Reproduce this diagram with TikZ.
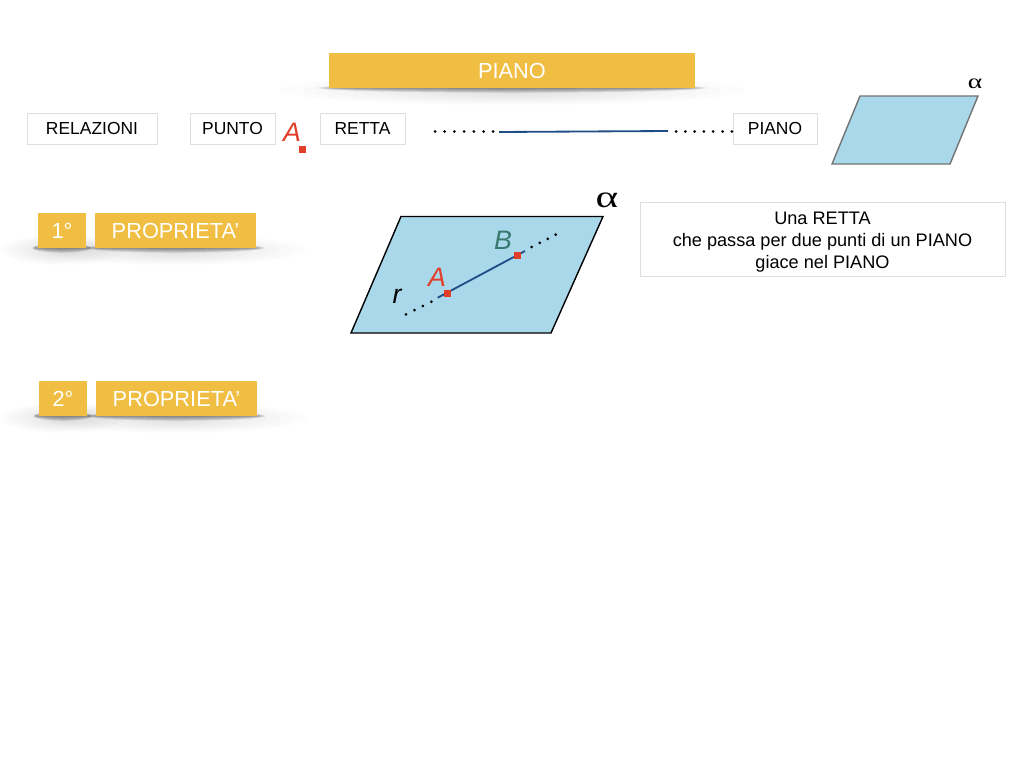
\documentclass[tikz,border=0pt]{standalone}
\usepackage{graphicx}
\usepackage{fontspec}
\setmainfont{Liberation Sans}
\newfontfamily\alphafont{Liberation Serif}
\definecolor{barcol}{HTML}{EFBE42}
\definecolor{planecol}{HTML}{A9D8EB}
\definecolor{linecol}{HTML}{1F4E87}
\definecolor{redcol}{HTML}{E23D28}
\definecolor{tealcol}{HTML}{37796F}
\tikzset{
  relbox/.style={draw=black!13, line width=0.6pt, fill=white, inner sep=0pt, minimum height=7.75mm, font=\fontsize{12.4}{15}\selectfont},
  goldbar/.style={fill=barcol, text=white, inner sep=0pt, minimum height=8.75mm, font=\fontsize{15.5}{19}\selectfont},
  redpt/.style={fill=redcol, inner sep=0pt, minimum size=1.75mm},
  dotpt/.style={circle, fill=black, inner sep=0pt, minimum size=0.75mm}
}
\newcommand{\barshadow}[4]{
  \foreach \i in {1,...,10}
    \fill[black, opacity=0.012] (#1,#2+2) ellipse [x radius=#3*\i/10, y radius=2+1.3*\i];
  \foreach \i in {1,...,6}
    \fill[black, opacity=0.08] (#1,#2) ellipse [x radius=#4*(0.94+0.02*\i), y radius=0.8*\i];
}
\begin{document}
\begin{tikzpicture}[x=0.25mm, y=-0.25mm]
\useasboundingbox (0,0) rectangle (1024,768);
\fill[white] (0,0) rectangle (1024,768);
% shadows under the bars
\barshadow{512}{88}{232}{183}
\barshadow{62}{248}{62}{28}
\barshadow{175.5}{248}{130}{84}
\barshadow{63}{416}{62}{28}
\barshadow{176.5}{416}{130}{84}
% bars
\node[goldbar, minimum width=91.5mm] (title) at (512,70.5) {PIANO};
\node[goldbar, minimum width=12mm] (first) at (62,230.5) {1°};
\node[goldbar, minimum width=40.25mm] (firstprop) at (175.5,230.5) {PROPRIETA’};
\node[goldbar, minimum width=12mm] (second) at (63,398.5) {2°};
\node[goldbar, minimum width=40.25mm] (secondprop) at (176.5,398.5) {PROPRIETA’};
% first row
\node[relbox, minimum width=32.5mm] (relazioni) at (92,128.5) {RELAZIONI};
\node[relbox, minimum width=21.25mm] (punto) at (232.5,128.5) {PUNTO};
\node[relbox, minimum width=21.25mm] (retta) at (362.5,128.5) {RETTA};
\node[relbox, minimum width=21mm] (piano) at (775,128.5) {PIANO};
\node[text=redcol, font=\fontsize{19}{22}\selectfont\itshape] (pointname) at (292,132) {A};
\node[redpt] (pointmark) at (302,149.7) {};
\foreach \x in {0,...,6} {
  \node[dotpt] at (435+9.7*\x,131.5) {};
  \node[dotpt] at (676+9.3*\x,131.5) {};
}
\coordinate (lineleft) at (499,132);
\coordinate (lineright) at (668,131);
\draw[linecol, line width=1.3pt] (lineleft) -- (lineright);
% small plane
\draw[fill=planecol, draw=black!55, line width=1pt] (860,96) -- (978,96) -- (950,164) -- (832,164) -- cycle;
\node[font=\fontsize{14.5}{17}\selectfont\alphafont] (smallalpha) at (975,84) {\scalebox{1.35}[1]{α}};
% big plane
\draw[fill=planecol, draw=black, line width=1pt] (401,216.5) -- (603,216.5) -- (551,333) -- (351,333) -- cycle;
\node[font=\fontsize{22}{26}\selectfont\alphafont] (bigalpha) at (607,200) {\scalebox{1.4}[1]{α}};
\coordinate (rleft) at (437.7,297.7);
\coordinate (rright) at (525,251);
\draw[linecol, line width=1.3pt] (rleft) -- (rright);
\node[redpt] (pointa) at (447.7,293) {};
\node[redpt] (pointb) at (517,255) {};
\foreach \t in {0,1,2,3} {
  \node[dotpt] at (406+8.43*\t,314.3-4.2*\t) {};
  \node[dotpt] at (531.7+8*\t,247-4.1*\t) {};
}
\node[text=redcol, font=\fontsize{19}{22}\selectfont\itshape] (namea) at (437,277) {A};
\node[text=tealcol, font=\fontsize{19}{22}\selectfont\itshape] (nameb) at (503,240) {B};
\node[font=\fontsize{19}{22}\selectfont\itshape] (namer) at (397,296) {r};
% statement
\node[relbox, minimum width=91.25mm, minimum height=18.5mm, align=center, font=\fontsize{12.9}{15.6}\selectfont] (statement) at (822.5,239) {\rule{0pt}{1.03em}Una RETTA\\che passa per due punti di un PIANO\\giace nel PIANO};
\end{tikzpicture}
\end{document}
